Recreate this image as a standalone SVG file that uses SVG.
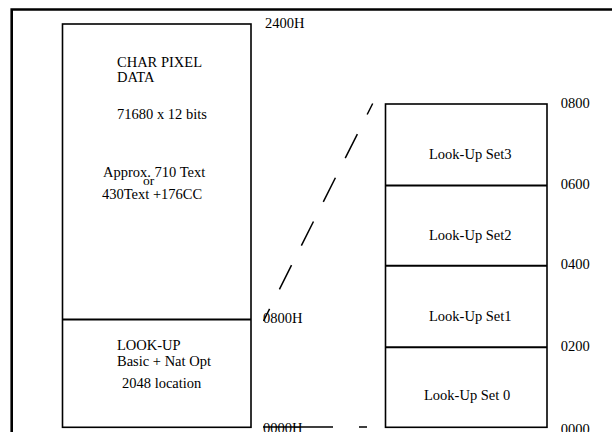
<svg xmlns="http://www.w3.org/2000/svg" width="612" height="432" viewBox="0 0 612 432">
<style>
text{font-family:"Liberation Serif","Times New Roman",serif;font-size:14.5px;fill:#000}
.box{fill:none;stroke:#000;stroke-width:1.6}
.div{stroke:#000;stroke-width:2}
.con{fill:none;stroke:#000;stroke-width:1.5}
</style>
<rect width="612" height="432" fill="#fff"/>
<g id="frame"><path d="M11.7,440 V9.5 H620" fill="none" stroke="#000" stroke-width="2.6"/></g>
<g id="memory-map">
<rect class="box" x="62.5" y="24" width="188.5" height="403.3"/>
<line class="div" x1="62.5" y1="319.5" x2="251" y2="319.5"/>
<text x="117" y="66.5">CHAR PIXEL</text>
<text x="117" y="81.7">DATA</text>
<text x="117" y="119.3">71680 x 12 bits</text>
<text x="103" y="176.5">Approx. 710 Text</text>
<text x="143" y="185" style="font-size:13.5px">or</text>
<text x="102" y="199">430Text +176CC</text>
<text x="117" y="350">LOOK-UP</text>
<text x="117" y="365.7">Basic + Nat Opt</text>
<text x="122" y="388.3">2048 location</text>
<text x="265" y="28.3">2400H</text>
<text x="263" y="323">0800H</text>
<text x="263" y="433">0000H</text>
</g>
<g id="lookup-sets">
<rect class="box" x="385.5" y="104" width="161.5" height="323.3"/>
<line class="div" x1="385.5" y1="185.5" x2="547" y2="185.5"/>
<line class="div" x1="385.5" y1="265.7" x2="547" y2="265.7"/>
<line class="div" x1="385.5" y1="347.3" x2="547" y2="347.3"/>
<text x="429" y="159">Look-Up Set3</text>
<text x="429" y="240">Look-Up Set2</text>
<text x="429" y="321">Look-Up Set1</text>
<text x="424" y="400">Look-Up Set 0</text>
<text x="560.7" y="108.3">0800</text>
<text x="560.7" y="189">0600</text>
<text x="560.7" y="269.3">0400</text>
<text x="560.7" y="350.5">0200</text>
<text x="560.7" y="433.5">0000</text>
</g>
<g id="connectors">
<path class="con" d="M372.7,103.5 L263.5,321" stroke-dasharray="27 21.9" stroke-dashoffset="14.7"/>
<path class="con" d="M263,427 H333 M359,427 H367"/>
</g>
</svg>
